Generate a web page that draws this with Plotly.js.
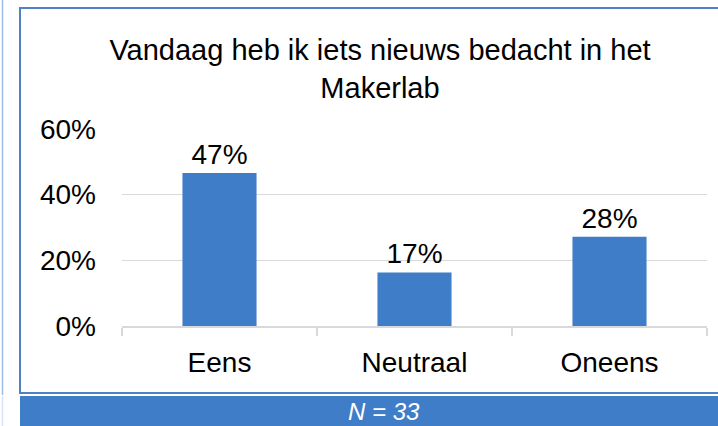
<!DOCTYPE html>
<html>
<head>
<meta charset="utf-8">
<script src="https://cdn.plot.ly/plotly-3.0.1.min.js"></script>
<style>
  html, body { margin: 0; padding: 0; background: #ffffff; }
  #chart { width: 718px; height: 426px; }
</style>
</head>
<body>
<div id="chart"></div>
<script>
// Data
const categories = ["Eens", "Neutraal", "Oneens"];
const values = [0.466, 0.163, 0.272];
const valueLabels = ["47%", "17%", "28%"];
const yTickVals = [0, 0.2, 0.4, 0.6];
const yTickText = ["0%", "20%", "40%", "60%"];
const titleText = "Vandaag heb ik iets nieuws bedacht in het<br>Makerlab";
const footnote = "N = 33";

const W = 718, H = 426;
const M = { l: 122, r: 11, t: 129, b: 100 };
const pw = W - M.l - M.r, ph = H - M.t - M.b;
const px = x => (x - M.l) / pw;          // pixel -> paper x
const py = y => (H - M.b - y) / ph;      // pixel -> paper y

const FONT = "Liberation Sans, Arial, sans-serif";
const BLUE = "#3f7dc8";

const trace = {
  type: "bar",
  x: categories,
  y: values,
  text: valueLabels,
  textposition: "outside",
  texttemplate: "%{text}",
  textfont: { family: FONT, size: 28, color: "#000000" },
  cliponaxis: false,
  marker: { color: BLUE },
  hoverinfo: "skip"
};

const layout = {
  width: W, height: H,
  margin: M,
  paper_bgcolor: "#ffffff",
  plot_bgcolor: "#ffffff",
  showlegend: false,
  bargap: 0.62,
  font: { family: FONT, size: 28, color: "#000000" },
  title: {
    text: titleText,
    font: { family: FONT, size: 29, color: "#000000" },
    x: px(380), xref: "paper", xanchor: "center",
    y: 1 - 60 / H, yref: "container", yanchor: "top"
  },
  xaxis: {
    type: "category",
    showgrid: false,
    showline: true, linecolor: "#d9d9d9", linewidth: 1.5,
    ticks: "outside", tickson: "boundaries", ticklen: 8,
    tickcolor: "#d9d9d9", tickwidth: 1.5,
    tickfont: { family: FONT, size: 28, color: "#000000" },
    ticklabelstandoff: 11,
    fixedrange: true
  },
  yaxis: {
    range: [0, 0.6],
    tickvals: yTickVals, ticktext: yTickText,
    showgrid: true, gridcolor: "#d9d9d9", gridwidth: 1.5,
    zeroline: false, showline: false, ticks: "",
    tickfont: { family: FONT, size: 28, color: "#000000" },
    ticklabelstandoff: 25,
    fixedrange: true
  },
  shapes: [
    // outer chart frame
    { type: "rect", xref: "paper", yref: "paper", layer: "below",
      x0: px(20), x1: px(740), y0: py(393), y1: py(8),
      line: { color: "#4f81c7", width: 2 }, fillcolor: "rgba(0,0,0,0)" },
    // bottom band
    { type: "rect", xref: "paper", yref: "paper", layer: "below",
      x0: px(20), x1: px(740), y0: py(430), y1: py(396),
      line: { width: 0 }, fillcolor: BLUE },
    // thin left edge line
    { type: "line", xref: "paper", yref: "paper", layer: "below",
      x0: px(2.5), x1: px(2.5), y0: py(395), y1: py(0),
      line: { color: "#9dbde6", width: 1.5 } },
    { type: "line", xref: "paper", yref: "paper", layer: "below",
      x0: px(2.5), x1: px(2.5), y0: py(430), y1: py(396),
      line: { color: "#d6e4f5", width: 1.5 } }
  ],
  annotations: [
    { text: "<i>" + footnote + "</i>", xref: "paper", yref: "paper",
      x: px(384), y: py(411), xanchor: "center", yanchor: "middle",
      showarrow: false,
      font: { family: FONT, size: 24, color: "#ffffff" } }
  ]
};

Plotly.newPlot("chart", [trace], layout, { displayModeBar: false, staticPlot: true });
</script>
</body>
</html>
